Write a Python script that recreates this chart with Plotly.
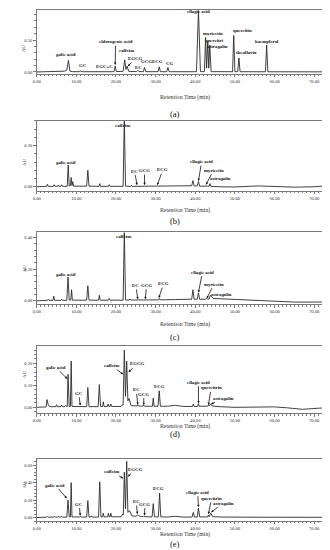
import plotly.graph_objects as go

# ---------------- data ----------------
t_a = [0, 3.0, 3.2, 3.4, 6.0, 7.0, 7.6, 8.0, 8.4, 9.0, 10.8, 11.0, 11.2, 16.8, 17.0, 17.2, 19.5, 19.8, 20.1,
       21.8, 22.2, 22.5, 22.8, 23.2, 25.2, 25.5, 25.8, 26.9, 27.2, 27.5, 30.6, 30.9, 31.2, 32.8, 33.1, 33.4,
       40.3, 40.8, 41.3, 42.3, 42.6, 42.85, 43.15, 43.4, 43.65, 44.0, 49.4, 49.7, 50.0, 50.7, 51.0, 51.3,
       57.7, 58.0, 58.3, 69.9, 70.2, 70.5, 75.0]
au_a = [0, 0.001, 0.006, 0.001, 0.004, 0.012, 0.03, 0.18, 0.012, 0.005, 0.004, 0.02, 0.004, 0.004, 0.012, 0.004,
        0.004, 0.09, 0.006, 0.01, 0.19, 0.04, 0.09, 0.01, 0.005, 0.025, 0.005, 0.005, 0.07, 0.005, 0.004, 0.08,
        0.004, 0.004, 0.07, 0.004, 0.004, 0.96, 0.005, 0.005, 0.54, 0.06, 0.48, 0.06, 0.42, 0.005, 0.004, 0.57,
        0.005, 0.005, 0.22, 0.004, 0.003, 0.42, 0.003, 0.002, 0.006, 0.002, 0.002]

t_b = [0, 2.5, 2.7, 2.9, 4.2, 4.4, 4.6, 5.2, 5.4, 5.6, 6.1, 6.3, 6.5, 7.7, 7.95, 8.2, 8.5, 8.7, 8.9, 9.1, 9.3,
       12.6, 12.9, 13.2, 15.7, 15.9, 16.1, 18.1, 18.3, 18.5, 21.8, 22.1, 22.4, 23.7, 23.9, 24.1, 30.0, 35.0,
       39.1, 39.4, 39.7, 40.5, 40.8, 41.1, 43.5, 43.7, 43.9, 46.0, 50.0, 56.0, 60.0, 65.0, 70.0, 75.0]
au_b = [0, 0.002, 0.012, 0.002, 0.002, 0.01, 0.002, 0.002, 0.008, 0.002, 0.002, 0.01, 0.002, 0.002, 0.105, 0.004,
        0.006, 0.045, 0.006, 0.025, 0.003, 0.003, 0.08, 0.003, 0.002, 0.015, 0.002, 0.002, 0.01, 0.002, 0.002,
        0.335, 0.003, 0.002, 0.006, 0.002, 0.003, 0.006, 0.005, 0.03, 0.004, 0.004, 0.025, 0.003, 0.003, 0.015,
        0.002, 0.0, -0.001, 0.004, 0.002, -0.002, 0.0, 0.008]

t_c = [0, 2.7, 2.9, 3.1, 4.1, 4.3, 4.5, 6.1, 6.3, 6.5, 7.6, 7.9, 8.2, 8.6, 8.8, 9.0, 12.6, 12.9, 13.2, 15.6, 15.8,
       16.0, 18.1, 18.3, 18.5, 21.8, 22.1, 22.4, 23.3, 23.5, 23.7, 30.8, 31.0, 31.2, 35.0, 39.1, 39.4, 39.7,
       40.5, 40.8, 41.1, 42.7, 42.9, 43.1, 43.5, 43.8, 44.5, 47.0, 50.0, 55.0, 60.0, 65.0, 70.0, 75.0]
au_c = [0, 0.003, 0.01, 0.003, 0.003, 0.03, 0.003, 0.003, 0.01, 0.003, 0.003, 0.15, 0.005, 0.005, 0.07, 0.004,
        0.004, 0.095, 0.004, 0.004, 0.035, 0.004, 0.004, 0.015, 0.004, 0.004, 0.43, 0.005, 0.005, 0.012, 0.005,
        0.006, 0.015, 0.006, 0.008, 0.01, 0.07, 0.01, 0.01, 0.05, 0.01, 0.01, 0.015, 0.01, 0.012, 0.035, 0.015,
        0.012, 0.006, 0.0, -0.004, -0.008, -0.008, -0.006]

t_d = [0, 2.4, 2.6, 2.9, 3.3, 4.8, 5.0, 5.2, 6.1, 6.3, 6.5, 7.1, 7.3, 7.5, 7.7, 7.9, 8.2, 8.5, 8.7, 8.9, 10.8,
       11.0, 11.2, 12.6, 12.9, 13.2, 15.5, 15.8, 16.1, 16.6, 16.8, 17.0, 17.8, 18.0, 18.2, 18.5, 18.7, 18.9,
       21.3, 21.6, 21.8, 22.1, 22.4, 22.7, 23.0, 23.3, 23.8, 25.3, 25.5, 25.7, 26.8, 27.0, 27.2, 29.2, 29.4,
       29.6, 30.6, 30.9, 31.2, 33.0, 35.0, 37.0, 39.3, 39.5, 39.7, 40.6, 40.8, 41.0, 43.1, 43.3, 43.5, 43.9,
       44.3, 46.0, 50.0, 57.0, 60.0, 63.0, 67.0, 71.0, 75.0]
au_d = [0, 0.002, 0.035, 0.012, 0.003, 0.003, 0.012, 0.003, 0.003, 0.01, 0.003, 0.003, 0.008, 0.003, 0.003, 0.15,
        0.004, 0.004, 0.21, 0.004, 0.003, 0.006, 0.003, 0.003, 0.09, 0.003, 0.003, 0.103, 0.004, 0.004, 0.025,
        0.004, 0.004, 0.015, 0.004, 0.004, 0.015, 0.004, 0.004, 0.012, 0.01, 0.26, 0.05, 0.21, 0.03, 0.04,
        0.008, 0.006, 0.012, 0.006, 0.006, 0.01, 0.005, 0.005, 0.042, 0.005, 0.005, 0.075, 0.005, 0.005, 0.009,
        0.004, 0.004, 0.015, 0.004, 0.004, 0.017, 0.005, 0.005, 0.01, 0.006, 0.016, 0.006, 0.003, 0.0, 0.002,
        0.002, -0.002, -0.009, -0.004, -0.001]

t_e = [0, 2.5, 2.7, 2.9, 4.3, 4.5, 4.7, 5.3, 5.5, 5.7, 6.1, 6.3, 6.5, 7.6, 7.9, 8.2, 8.5, 8.7, 8.9, 10.8, 11.0,
       11.2, 12.6, 12.9, 13.2, 13.6, 13.8, 14.0, 15.6, 15.9, 16.2, 16.6, 16.8, 17.0, 17.9, 18.1, 18.3, 18.5,
       18.7, 18.9, 21.3, 21.7, 21.85, 22.1, 22.4, 22.7, 23.0, 23.4, 24.0, 25.0, 25.5, 26.0, 26.8, 27.0, 27.2,
       29.1, 29.4, 29.7, 30.7, 31.0, 31.3, 33.0, 35.0, 37.0, 39.2, 39.5, 39.8, 40.5, 40.8, 41.1, 43.1, 43.3,
       43.5, 43.9, 44.4, 47.0, 55.0, 60.0, 65.0, 75.0]
au_e = [0, 0.005, 0.015, 0.005, 0.005, 0.015, 0.005, 0.005, 0.015, 0.005, 0.005, 0.015, 0.005, 0.005, 0.2, 0.008,
        0.008, 0.4, 0.008, 0.006, 0.015, 0.006, 0.006, 0.195, 0.006, 0.006, 0.02, 0.006, 0.006, 0.41, 0.008,
        0.008, 0.05, 0.008, 0.008, 0.05, 0.008, 0.008, 0.05, 0.008, 0.01, 0.04, 0.03, 0.52, 0.1, 0.645, 0.06,
        0.08, 0.02, 0.015, 0.03, 0.015, 0.01, 0.02, 0.01, 0.008, 0.16, 0.008, 0.008, 0.28, 0.008, 0.006, 0.015,
        0.005, 0.006, 0.06, 0.006, 0.006, 0.11, 0.008, 0.008, 0.03, 0.01, 0.05, 0.01, 0.006, 0.004, 0.005,
        0.003, 0.003]

x_tick_vals = [0, 10, 20, 30, 40, 50, 60, 70]
panel_names = ["(a)", "(b)", "(c)", "(d)", "(e)"]
x_title = "Retention Time (min)"
y_title = "AU"

# peak labels: (text, label_x, label_y, arrow_x, arrow_y)  arrow None => plain text
labels_a = [("galic acid", 7.3, 0.27, None, None), ("GC", 11.6, 0.105, None, None),
            ("EGC+C", 17.0, 0.078, None, None), ("chlorogenic acid", 19.9, 0.47, 19.8, 0.11),
            ("caffeine", 22.7, 0.33, None, None), ("EGCG", 24.9, 0.21, 23.0, 0.09),
            ("EC", 25.7, 0.075, None, None), ("GCG", 27.8, 0.156, None, None),
            ("ECG", 30.5, 0.156, None, None), ("CG", 33.5, 0.13, None, None),
            ("ellagic acid", 40.9, 0.94, None, None), ("myricetin", 44.5, 0.6, None, None),
            ("quercitri", 44.9, 0.49, None, None), ("astragalin", 45.6, 0.40, None, None),
            ("quercitin", 51.8, 0.645, None, None), ("theaflavin", 52.9, 0.30, None, None),
            ("kaempferol", 58.0, 0.48, None, None)]
labels_b = [("galic acid", 7.4, 0.12, None, None), ("caffeine", 21.8, 0.297, None, None),
            ("EC", 24.7, 0.076, 25.3, 0.008), ("GCG", 27.2, 0.078, 27.2, 0.008),
            ("ECG", 31.8, 0.082, 30.4, 0.008), ("ellagic acid", 41.6, 0.122, 40.8, 0.028),
            ("myricetin", 44.6, 0.08, 42.7, 0.01), ("astragalin", 46.3, 0.04, None, None)]
labels_c = [("galic acid", 7.5, 0.164, None, None), ("caffeine", 22.0, 0.405, None, None),
            ("EC", 25.0, 0.097, 25.5, 0.01), ("GCG", 27.7, 0.099, 27.4, 0.01),
            ("ECG", 32.0, 0.109, 30.8, 0.018), ("ellagic acid", 41.8, 0.18, 40.8, 0.052),
            ("myricetin", 44.7, 0.105, 42.9, 0.015), ("astragalin", 46.6, 0.038, None, None)]
labels_d = [("galic acid", 4.8, 0.182, 7.7, 0.13), ("GC", 10.6, 0.064, 11.0, 0.008),
            ("caffeine", 18.9, 0.19, 21.8, 0.15), ("EGCG", 25.2, 0.197, 23.2, 0.16),
            ("EC", 25.1, 0.079, 25.5, 0.012), ("GCG", 27.0, 0.06, 27.0, 0.01),
            ("ECG", 30.9, 0.093, None, None), ("ellagic acid", 40.8, 0.114, 40.8, 0.018),
            ("quercitrin", 44.0, 0.088, 43.3, 0.01), ("astragalin", 47.2, 0.041, 44.0, 0.015)]
labels_e = [("galic acid", 4.7, 0.373, 7.6, 0.22), ("GC", 10.7, 0.154, 11.0, 0.02),
            ("caffeine", 19.1, 0.523, 21.8, 0.45), ("EGCG", 24.9, 0.55, 23.0, 0.47),
            ("EC", 25.1, 0.184, 25.4, 0.04), ("GCG", 27.3, 0.154, 27.2, 0.025),
            ("ECG", 30.7, 0.33, None, None), ("ellagic acid", 40.6, 0.29, 40.8, 0.12),
            ("quercitrin", 44.1, 0.22, 43.3, 0.04), ("astragalin", 47.0, 0.165, 44.0, 0.06)]

# ---------------- layout ----------------
W, H = 330, 550
series = [(t_a, au_a), (t_b, au_b), (t_c, au_c), (t_d, au_d), (t_e, au_e)]
all_labels = [labels_a, labels_b, labels_c, labels_d, labels_e]
# pixel boxes (top, bottom) of each plot area
boxes = [(2, 66), (113, 183), (224, 297), (339, 406), (452, 514)]
yranges = [(-0.03, 0.97), (-0.019, 0.32), (-0.023, 0.437), (-0.027, 0.277), (-0.04, 0.67)]
ydticks = [0.5, 0.2, 0.2, 0.1, 0.2]
title_py = [84.5, 202.5, 317.5, 424.5, 533]
panel_py = [99, 213, 330, 434, 544]
x0p, x1p = 25, 326

SERIF = "Liberation Serif"
AXC = "#7a7a7a"

fig = go.Figure()
layout = dict(width=W, height=H, margin=dict(l=0, r=0, t=0, b=0),
              paper_bgcolor="white", plot_bgcolor="white", showlegend=False,
              font=dict(family=SERIF, color="#222"))
annotations = []

for i, (tt, yy) in enumerate(series):
    n = "" if i == 0 else str(i + 1)
    fig.add_trace(go.Scatter(x=tt, y=yy, mode="lines", line=dict(color="#2b2b2b", width=0.9),
                             xaxis="x" + n, yaxis="y" + n, hoverinfo="skip"))
    top, bot = boxes[i]
    layout["xaxis" + n] = dict(domain=[x0p / W, x1p / W], range=[0, 75], anchor="y" + n,
                               tickvals=x_tick_vals, tickformat=".2f", ticks="outside", ticklen=2.5,
                               tickcolor=AXC, tickwidth=0.8, showline=True, linecolor=AXC, linewidth=0.8,
                               mirror=True, showgrid=False, zeroline=False,
                               tickfont=dict(family=SERIF, size=4.6, color="#333"),
                               minor=dict(dtick=1, ticks="outside", ticklen=1.5, tickcolor=AXC, tickwidth=0.6))
    layout["yaxis" + n] = dict(domain=[1 - bot / H, 1 - top / H], range=list(yranges[i]), anchor="x" + n,
                               dtick=ydticks[i], tick0=0, tickformat=".2f", ticks="outside", ticklen=2.5,
                               tickcolor=AXC, tickwidth=0.8, showline=True, linecolor=AXC, linewidth=0.8,
                               mirror=True, showgrid=False, zeroline=False,
                               tickfont=dict(family=SERIF, size=4.6, color="#333"),
                               minor=dict(dtick=ydticks[i] / 5, ticks="outside", ticklen=1.5,
                                          tickcolor=AXC, tickwidth=0.6))
    # axis title, AU label, panel letter
    annotations.append(dict(text=x_title, x=(x0p + x1p) / 2 / W, y=1 - title_py[i] / H, xref="paper",
                            yref="paper", showarrow=False, font=dict(family=SERIF, size=5.8, color="#333")))
    annotations.append(dict(text=y_title, x=8 / W, y=1 - (top + bot) / 2 / H, xref="paper", yref="paper",
                            showarrow=False, textangle=-90, font=dict(family=SERIF, size=5, color="#333")))
    annotations.append(dict(text=panel_names[i], x=165 / W, y=1 - panel_py[i] / H, xref="paper",
                            yref="paper", showarrow=False, font=dict(family=SERIF, size=8.5, color="#111")))
    for (txt, lx, ly, axx, axy) in all_labels[i]:
        base = dict(text="<b>" + txt + "</b>", xref="x" + n, yref="y" + n,
                    font=dict(family=SERIF, size=4.8, color="#111"))
        if axx is None:
            base.update(x=lx, y=ly, showarrow=False)
        else:
            base.update(x=axx, y=axy, ax=lx, ay=ly, axref="x" + n, ayref="y" + n, showarrow=True,
                        arrowhead=2, arrowsize=0.6, arrowwidth=0.8, arrowcolor="#111", standoff=0)
        annotations.append(base)

layout["annotations"] = annotations
fig.update_layout(**layout)
fig.write_html("out.html")
